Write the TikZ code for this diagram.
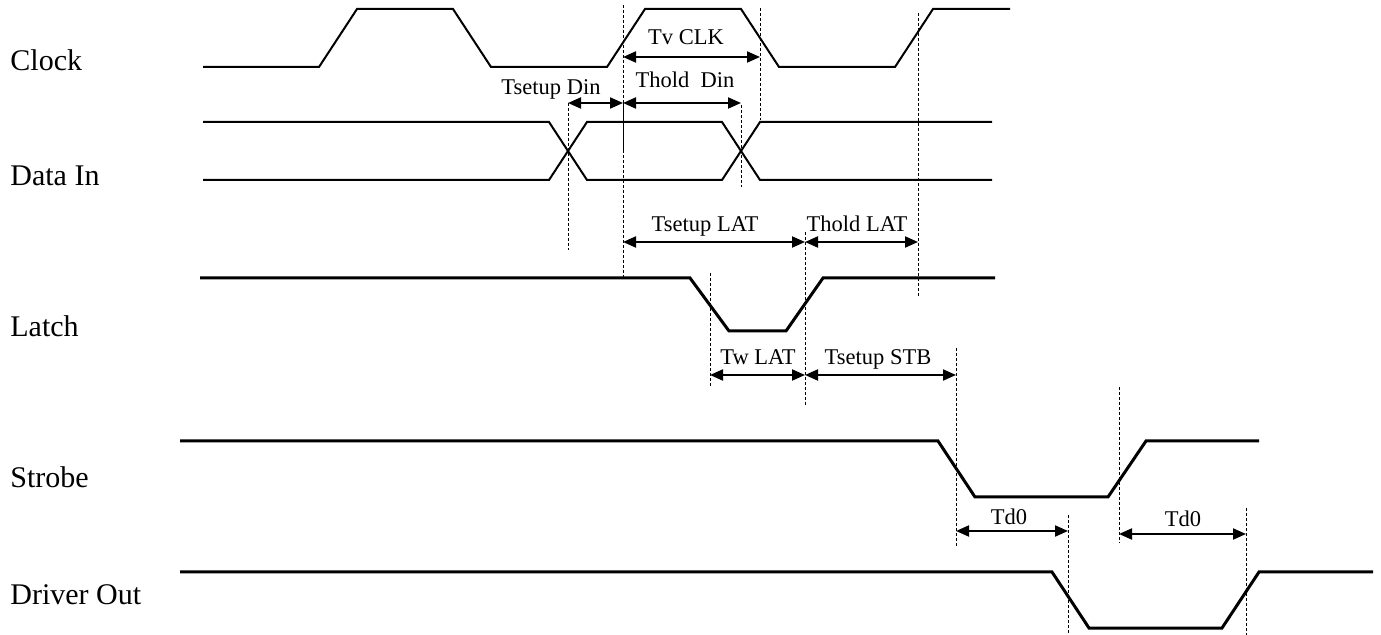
\documentclass[tikz,border=0pt]{standalone}
\usepackage{fontspec}
\setmainfont{Liberation Serif}
\usetikzlibrary{arrows.meta}

\begin{document}
\begin{tikzpicture}[x=0.5pt,y=-0.5pt,
	thinsig/.style={line width=1pt},
	thicksig/.style={line width=1.5pt},
	marker/.style={line width=0.5pt,dash pattern=on 1.5pt off 1pt},
	dim/.style={line width=1pt,{Triangle[length=6.5pt,width=5.5pt]}-{Triangle[length=6.5pt,width=5.5pt]}},
	signame/.style={anchor=base west,inner sep=0pt,font=\fontsize{15}{18}\selectfont},
	timelbl/.style={anchor=base,inner sep=0pt,font=\fontsize{11.25}{13}\selectfont}]
	\useasboundingbox (0,0) rectangle (1381,635);
	% signal names
		\node[signame] (clock) at (10,71) {Clock};
		\node[signame] (datain) at (10,186) {Data In};
		\node[signame] (latch) at (10,337) {Latch};
		\node[signame] (strobe) at (10,488) {Strobe};
		\node[signame] (drvout) at (10,604) {Driver Out};
	% waveforms
		\draw[thinsig] (203,67) -- (319,67) -- (357,9) -- (453,9) -- (491,67) -- (607,67) -- (645,9) -- (741,9) -- (779,67) -- (895,67) -- (933,9) -- (1010,9);
		\draw[thinsig] (203,122) -- (549,122) -- (587,180) -- (722,180) -- (760,122) -- (992,122);
		\draw[thinsig] (203,180) -- (549,180) -- (587,122) -- (722,122) -- (760,180) -- (992,180);
		\draw[thicksig] (200,278) -- (690,278) -- (729,331) -- (786,331) -- (823,278) -- (995,278);
		\draw[thicksig] (180,441) -- (938,441) -- (975,497) -- (1108,497) -- (1146,441) -- (1259,441);
		\draw[thicksig] (180,572) -- (1052,572) -- (1089,628) -- (1222,628) -- (1259,572) -- (1373,572);
	% markers
		\foreach \x/\ya/\yb in {568/103/250, 623/5/278, 760/8/120, 741/105/187, 918/13/297,
			805/232/407, 710/273/387, 956/348/547, 1119/387/543, 1068/515/635, 1246/508/635}
			\draw[marker] (\x,\ya) -- (\x,\yb);
		\draw[line width=0.5pt] (623,103) -- (623,150);
	% timing arrows
		\coordinate (tvclkA) at (623,57);	\coordinate (tvclkB) at (760,57);
		\coordinate (tsudinA) at (568,103);	\coordinate (tsudinB) at (623,103);
		\coordinate (thdinB) at (741,103);
		\coordinate (tsulatA) at (623,242);	\coordinate (tsulatB) at (805,242);
		\coordinate (thlatB) at (918,242);
		\coordinate (twlatA) at (710,375);	\coordinate (twlatB) at (805,375);
		\coordinate (tsustbB) at (956,375);
		\coordinate (tdoA) at (956,531);	\coordinate (tdoB) at (1068,531);
		\coordinate (tdtA) at (1119,534);	\coordinate (tdtB) at (1246,534);
		\draw[dim] (tvclkA) -- (tvclkB);
		\draw[dim] (tsudinA) -- (tsudinB);
		\draw[dim] (tsudinB) -- (thdinB);
		\draw[dim] (tsulatA) -- (tsulatB);
		\draw[dim] (tsulatB) -- (thlatB);
		\draw[dim] (twlatA) -- (twlatB);
		\draw[dim] (twlatB) -- (tsustbB);
		\draw[dim] (tdoA) -- (tdoB);
		\draw[dim] (tdtA) -- (tdtB);
	% timing labels
		\node[timelbl] (tvclk) at (686,45) {Tv CLK};
		\node[timelbl] (tsudin) at (551,95) {Tsetup Din};
		\node[timelbl] (thdin) at (685,88) {Thold\ \ Din};
		\node[timelbl] (tsulat) at (705,232) {Tsetup LAT};
		\node[timelbl] (thlat) at (857,232) {Thold LAT};
		\node[timelbl] (twlat) at (758,365) {Tw LAT};
		\node[timelbl] (tsustb) at (878,365) {Tsetup STB};
		\node[timelbl] (tdo) at (1009,525) {Td0};
		\node[timelbl] (tdt) at (1183,527) {Td0};
\end{tikzpicture}
\end{document}
